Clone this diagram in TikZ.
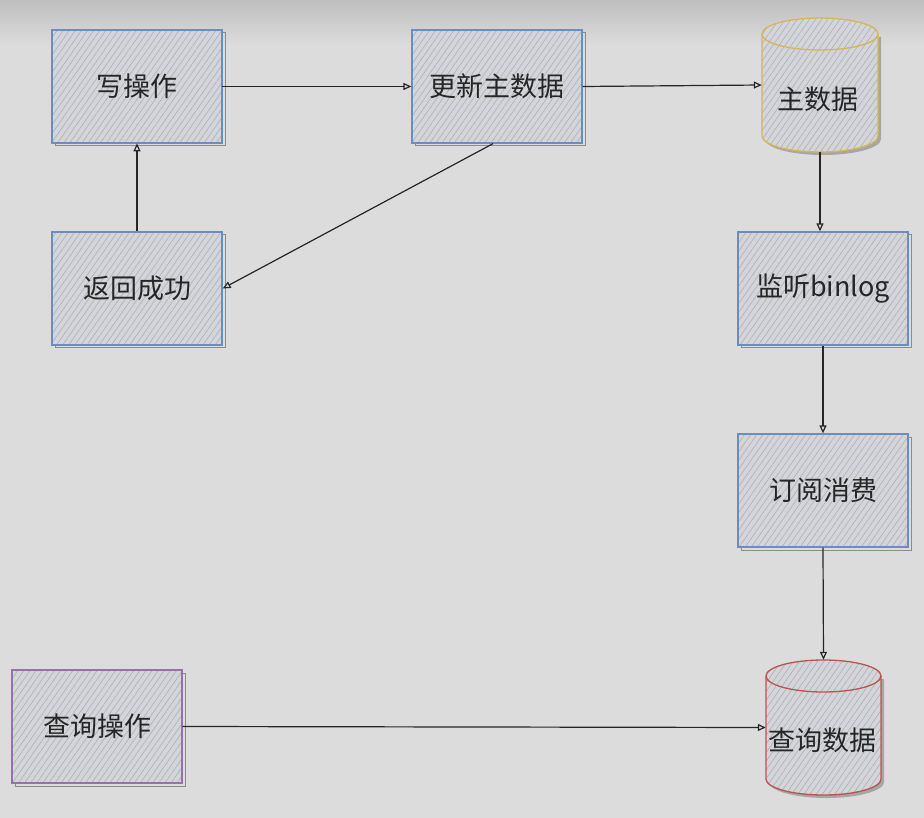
\documentclass[tikz,border=0pt]{standalone}
\usepackage{fontspec}
\setmainfont{Noto Sans CJK SC}
\usetikzlibrary{patterns.meta,arrows.meta}
\definecolor{bgc}{HTML}{DCDCDC}
\definecolor{bgtop}{HTML}{BEBEBE}
\definecolor{boxfill}{HTML}{D3D5D9}
\definecolor{hatch}{HTML}{B0B3B8}
\definecolor{bluec}{HTML}{6C8EBF}
\definecolor{goldc}{HTML}{D6B656}
\definecolor{redc}{HTML}{B85450}
\definecolor{purc}{HTML}{9673A6}
\tikzset{
  hatched/.style={preaction={fill=boxfill},pattern={Lines[angle=55,distance=5pt,line width=0.7pt]},pattern color=hatch},
  procbox/.style={draw=#1,line width=1.3pt,hatched,minimum width=170pt,minimum height=113pt,inner sep=0pt,font=\fontsize{27}{30}\selectfont,text=black!85},
  lbl/.style={font=\fontsize{27}{30}\selectfont,text=black!85},
  conn/.style={draw=black!85,line width=1.2pt,-{Triangle[open,length=8pt,width=7pt]}},
}
\newcommand{\shadowbox}[4]{\draw[black!45,line width=1pt] (#1+3,#2+3) rectangle (#3+3,#4+3);}
\newcommand{\mycyl}[6]{% x1 y1 x2 y2 ry color
  \pgfmathsetmacro{\rx}{(#3-#1)/2}
  \fill[black!35] (#1+3,#2+#5+3) -- (#1+3,#4-#5+3) arc[start angle=180,end angle=0,x radius=\rx,y radius=#5] -- (#3+3,#2+#5+3) -- cycle;
  \path[hatched,draw=#6,line width=1.3pt] (#1,#2+#5) arc[start angle=180,end angle=360,x radius=\rx,y radius=#5] -- (#3,#4-#5) arc[start angle=0,end angle=180,x radius=\rx,y radius=#5] -- cycle;
  \draw[#6,line width=1.3pt] (#1,#2+#5) arc[start angle=180,end angle=0,x radius=\rx,y radius=#5];
}
\begin{document}
\begin{tikzpicture}[x=1pt,y=-1pt]
\useasboundingbox (0,0) rectangle (924,818);
\fill[bgc] (0,0) rectangle (924,818);
\shade[top color=bgtop,bottom color=bgc] (0,0) rectangle (924,45);
% shadows
\shadowbox{52}{30}{222}{143}
\shadowbox{412}{30}{582}{143}
\shadowbox{52}{232}{222}{345}
\shadowbox{738}{232}{908}{345}
\shadowbox{738}{434}{908}{547}
\shadowbox{12}{670}{182}{783}
% boxes
\node[procbox=bluec] (write) at (137,86.5) {写操作};
\node[procbox=bluec] (update) at (497,86.5) {更新主数据};
\node[procbox=bluec] (ret) at (137,288.5) {返回成功};
\node[procbox=bluec] (binlog) at (823,288.5) {监听binlog};
\node[procbox=bluec] (sub) at (823,490.5) {订阅消费};
\node[procbox=purc] (query) at (97,726.5) {查询操作};
% cylinders
\mycyl{762}{18}{878}{152}{16}{goldc}
\mycyl{766}{660}{881}{795}{16}{redc}
\node[minimum width=116pt,minimum height=134pt,inner sep=0pt] (master) at (820,85) {};
\node[lbl] at (818,99) {主数据};
\node[minimum width=115pt,minimum height=135pt,inner sep=0pt] (qdata) at (823.5,727.5) {};
\node[lbl] at (822,740) {查询数据};
% connectors
\path[conn] (write.east) -- (update.west);
\path[conn] (update.east) -- (master.west);
\path[conn] (master.south) -- (master.south |- binlog.north);
\path[conn] (binlog.south) -- (sub.north);
\path[conn] (sub.south) -- (qdata.north);
\path (update.south) ++(-4,0) coordinate (ua);
\path[conn] (ua) -- (ret.east);
\path[conn] (ret.north) -- (write.south);
\path[conn] (query.east) -- (qdata.west);
\end{tikzpicture}
\end{document}
